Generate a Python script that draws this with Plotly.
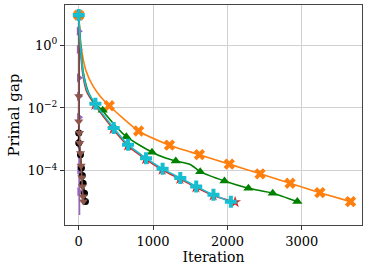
import plotly.graph_objects as go

# ---- data (iteration, log10 primal gap) ----
red_x = [0, 20, 50, 108, 218, 462, 658, 900, 1122, 1360, 1576, 1808, 2103]
red_logy = [0.96, 0.0, -0.85, -1.49, -1.90, -2.67, -3.20, -3.63, -3.97, -4.26, -4.53, -4.79, -5.00]
red_mark = [0, 4, 5, 6, 7, 8, 9, 10, 11, 12]

orange_x = [0, 30, 95, 190, 280, 410, 805, 1220, 1623, 2025, 2439, 2842, 3244, 3656]
orange_logy = [0.96, 0.0, -0.8, -1.3, -1.6, -1.93, -2.735, -3.185, -3.49, -3.79, -4.10, -4.40, -4.70, -4.985]
orange_mark = [0, 5, 6, 7, 8, 9, 10, 11, 12, 13]

green_x = [0, 25, 60, 130, 200, 280, 322, 360, 640, 985, 1150, 1305, 1500, 1634, 1960, 2282, 2609, 2940]
green_logy = [0.96, 0.0, -0.85, -1.5, -1.8, -2.0, -2.077, -2.2, -2.917, -3.41, -3.58, -3.69, -3.80, -4.03, -4.33, -4.56, -4.715, -4.98]
green_mark = [0, 6, 8, 9, 11, 13, 14, 15, 16, 17]

purple_x = [0, 1, 2, 3, 4, 5, 6, 7, 8, 9, 10]
purple_logy = [0.96, 0.447, -0.137, -1.04, -1.63, -2.3, -3.12, -3.97, -4.67, -5.0, -5.41]
purple_mark = [1, 2, 3, 4, 5, 6, 7, 8]

black_x = [0, 0, 0, 23, 36, 48, 59, 77, 90]
black_logy = [0.96, -2.8, -3.12, -3.49, -3.91, -4.15, -4.40, -4.72, -4.98]
black_mark = [1, 2, 3, 4, 5, 6, 7, 8]

brown_x = [0, 0, 0, 10, 14, 23, 32, 40, 48, 56, 62]
brown_logy = [0.96, -1.63, -2.43, -2.8, -3.12, -3.44, -3.84, -4.22, -4.5, -4.82, -4.98]
brown_mark = [1, 2, 3, 4, 5, 6, 7, 8, 9, 10]

cyan_x = [0, 22, 55, 115, 224, 470, 663, 905, 1128, 1366, 1580, 1812, 2046]
cyan_logy = [0.96, 0.0, -0.83, -1.45, -1.87, -2.64, -3.17, -3.60, -3.94, -4.23, -4.50, -4.77, -4.99]
cyan_mark = [0, 4, 5, 6, 7, 8, 9, 10, 11, 12]

ytick_vals = [1e-4, 1e-2, 1]
ytick_text = ["10<sup>−4</sup>", "10<sup>−2</sup>", "10<sup>0</sup>"]
xtick_vals = [0, 1000, 2000, 3000]

FONT = "DejaVu Serif"

series = [
    (red_x, red_logy, red_mark, "#d62728", "star", 9),
    (orange_x, orange_logy, orange_mark, "#ff7f0e", "x", 10),
    (green_x, green_logy, green_mark, "#008000", "triangle-up", 9),
    (purple_x, purple_logy, purple_mark, "#9467bd", "triangle-right", 8),
    (black_x, black_logy, black_mark, "black", "circle", 7),
    (brown_x, brown_logy, brown_mark, "#8c564b", "triangle-down", 8),
    (cyan_x, cyan_logy, cyan_mark, "#17becf", "cross", 10),
]

fig = go.Figure()
for xs, ly, mk, col, sym, sz in series:
    ys = [10 ** v for v in ly]
    fig.add_trace(go.Scatter(x=xs, y=ys, mode="lines",
                             line=dict(color=col, width=1.6, shape="spline", smoothing=0.6),
                             showlegend=False, hoverinfo="skip"))
    fig.add_trace(go.Scatter(x=[xs[i] for i in mk], y=[ys[i] for i in mk], mode="markers",
                             marker=dict(color=col, symbol=sym, size=sz, line=dict(width=0)),
                             showlegend=False))

fig.update_layout(
    width=371, height=272,
    margin=dict(l=65, r=9, t=5, b=47),
    paper_bgcolor="white", plot_bgcolor="white",
    font=dict(family=FONT, size=13, color="black"),
)
fig.update_xaxes(
    range=[-185, 3810], tickvals=xtick_vals, ticks="outside", ticklen=4, tickcolor="#333",
    showgrid=True, gridcolor="#d0d0d0", gridwidth=1, zeroline=False,
    showline=True, mirror=True, linecolor="#444", linewidth=1, automargin=False,
    tickfont=dict(family=FONT, size=13),
    title=dict(text="Iteration", font=dict(family=FONT, size=14), standoff=2),
)
fig.update_yaxes(
    type="log", range=[-5.73, 1.28], tickvals=ytick_vals, ticktext=ytick_text,
    ticks="outside", ticklen=4, tickcolor="#333",
    showgrid=True, gridcolor="#d0d0d0", gridwidth=1, zeroline=False,
    showline=True, mirror=True, linecolor="#444", linewidth=1, automargin=False,
    tickfont=dict(family=FONT, size=13),
    title=dict(text="Primal gap", font=dict(family=FONT, size=15), standoff=4),
)

fig.write_html(
    "out.html",
    config={"displayModeBar": False, "staticPlot": True},
    post_script="document.body.style.margin='0';document.body.style.padding='0';"
                "document.body.style.overflow='hidden';",
)
